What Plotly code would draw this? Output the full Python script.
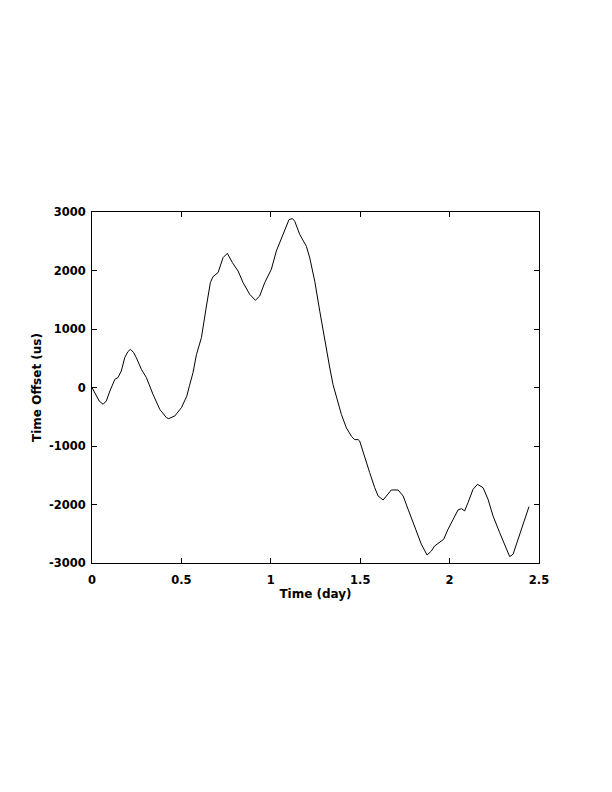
import plotly.graph_objects as go

# time in days, offset in microseconds
time_day = [0.000, 0.020, 0.040, 0.062, 0.080, 0.100, 0.120, 0.128, 0.145, 0.164,
            0.183, 0.200, 0.215, 0.232, 0.248, 0.276, 0.304, 0.341, 0.379, 0.416,
            0.429, 0.463, 0.500, 0.530, 0.546, 0.565, 0.584, 0.612, 0.640, 0.662,
            0.677, 0.705, 0.733, 0.757, 0.785, 0.817, 0.845, 0.882, 0.914, 0.938,
            0.966, 1.003, 1.031, 1.050, 1.078, 1.102, 1.121, 1.134, 1.162, 1.199,
            1.218, 1.246, 1.274, 1.302, 1.330, 1.348, 1.376, 1.395, 1.423, 1.451,
            1.469, 1.488, 1.497, 1.525, 1.553, 1.581, 1.600, 1.628, 1.656, 1.674,
            1.712, 1.740, 1.768, 1.805, 1.842, 1.874, 1.898, 1.916, 1.944, 1.967,
            1.991, 2.019, 2.047, 2.066, 2.084, 2.103, 2.131, 2.156, 2.187, 2.215,
            2.243, 2.280, 2.318, 2.336, 2.355, 2.383, 2.411, 2.444]
offset_us = [0, -120, -230, -287, -230, -60, 100, 140, 170, 282,
             510, 610, 653, 600, 510, 311, 170, -116, -373, -515,
             -532, -487, -345, -150, 40, 255, 560, 853, 1393, 1793,
             1896, 1964, 2220, 2294, 2135, 1991, 1793, 1593, 1491, 1564,
             1793, 2020, 2333, 2470, 2699, 2870, 2887, 2841, 2614, 2414,
             2214, 1815, 1303, 790, 333, 50, -236, -463, -692, -834,
             -891, -891, -914, -1198, -1455, -1711, -1854, -1923, -1826, -1752,
             -1752, -1854, -2082, -2395, -2680, -2863, -2795, -2709, -2641, -2595,
             -2424, -2253, -2094, -2070, -2111, -1968, -1741, -1655, -1712, -1911,
             -2197, -2480, -2766, -2891, -2851, -2595, -2310, -2036]

x_ticks = [0, 0.5, 1, 1.5, 2, 2.5]
x_labels = ["0", "0.5", "1", "1.5", "2", "2.5"]
y_ticks = [-3000, -2000, -1000, 0, 1000, 2000, 3000]
y_labels = ["-3000", "-2000", "-1000", "0", "1000", "2000", "3000"]

FONT = "DejaVu Sans, Verdana, sans-serif"

fig = go.Figure()
fig.add_trace(go.Scatter(x=time_day, y=offset_us, mode="lines",
                         line=dict(color="black", width=1), showlegend=False))

axis_style = dict(showline=True, linecolor="black", linewidth=1, mirror="ticks",
                  ticks="inside", ticklen=5, tickcolor="black", showgrid=False,
                  zeroline=False,
                  tickfont=dict(family=FONT, size=11.5, color="black", weight="bold"))

fig.update_xaxes(range=[0, 2.5], tickvals=x_ticks, ticktext=x_labels,
                 ticklabelstandoff=6,
                 title=dict(text="Time (day)", standoff=0,
                            font=dict(family=FONT, size=12, color="black", weight="bold")),
                 **axis_style)
fig.update_yaxes(range=[-3000, 3000], tickvals=y_ticks, ticktext=y_labels,
                 ticklabelstandoff=3,
                 title=dict(text="Time Offset (us)", standoff=4,
                            font=dict(family=FONT, size=12, color="black", weight="bold")),
                 **axis_style)

# page body has an 8px margin, so shift the plot area up/left by 8px
fig.update_layout(
    width=612, height=792,
    margin=dict(l=84, r=81, t=204, b=237),
    paper_bgcolor="white", plot_bgcolor="white",
    font=dict(family=FONT, color="black"),
)

fig.write_html("out.html")
